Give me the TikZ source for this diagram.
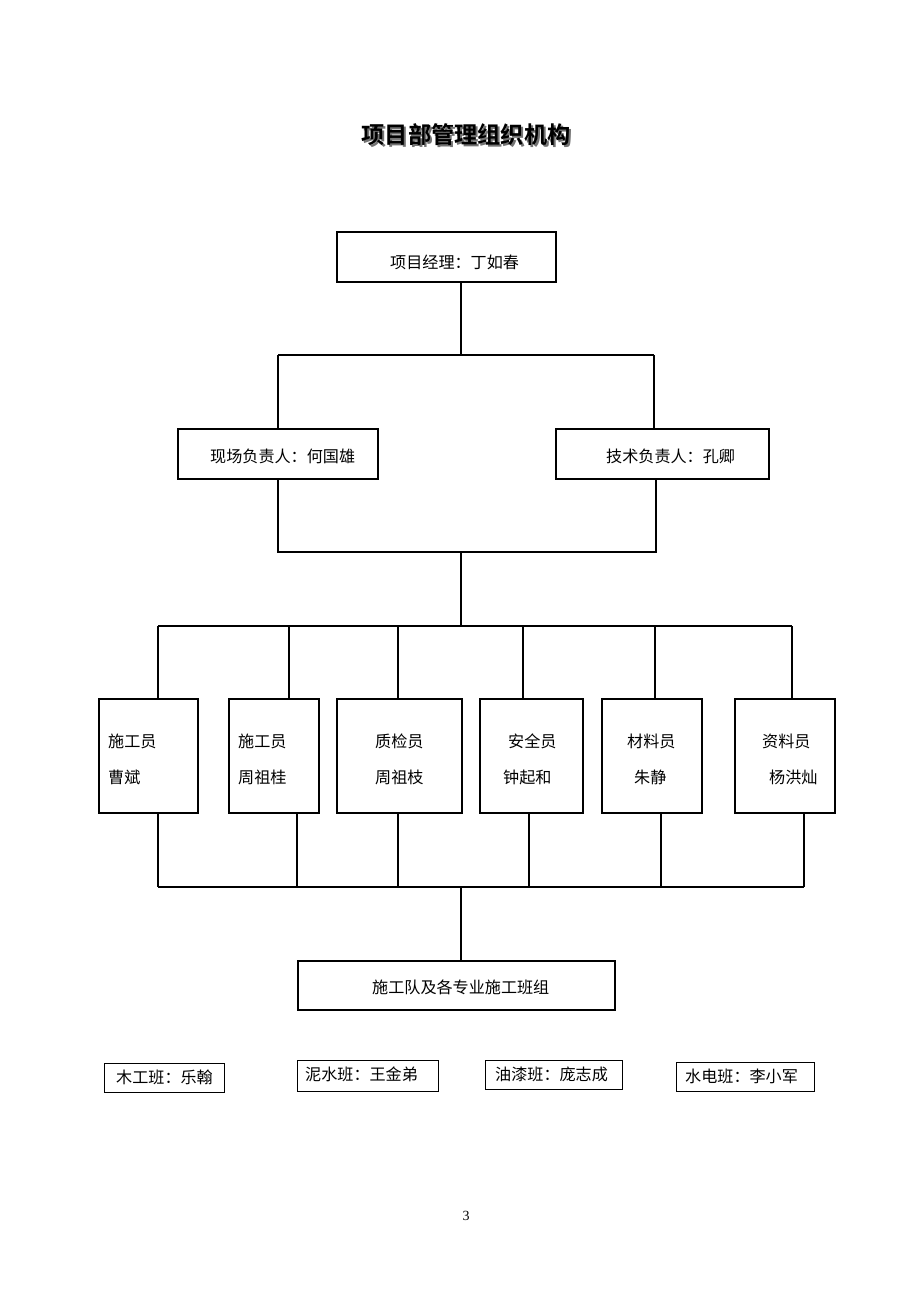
\documentclass[tikz,border=0pt]{standalone}
\usepackage{fontspec}
\setmainfont{Liberation Serif}
\newfontfamily\cjk{Noto Sans CJK SC}
\newfontfamily\cjkb{Noto Sans CJK SC Bold}
\begin{document}
\begin{tikzpicture}[x=1pt,y=-1pt,
  box/.style={draw=black,line width=1.1pt,inner sep=0pt,fill=white},
  txt/.style={inner sep=0pt,anchor=west,font=\cjk\fontsize{16.1}{17}\selectfont},
  conn/.style={draw=black,line width=1.1pt}]
\fill[white] (0,0) rectangle (920,1302);
\useasboundingbox (0,0) rectangle (920,1302);
% title
\node[inner sep=0pt,text=black!55,font=\cjkb\fontsize{23.2}{25}\selectfont] (titleshadow) at (468,137) {项目部管理组织机构};
\node[inner sep=0pt,font=\cjkb\fontsize{23.2}{25}\selectfont] (title) at (466,135) {项目部管理组织机构};
% level 1
\node[box,minimum width=219pt,minimum height=50pt] (pm) at (446.5,257) {};
\node[txt] (pmt) at (390,262) {项目经理：丁如春};
% level 2
\node[box,minimum width=200pt,minimum height=50pt] (site) at (278,454) {};
\node[txt] (sitet) at (210,456) {现场负责人：何国雄};
\node[box,minimum width=213pt,minimum height=50pt] (tech) at (662.5,454) {};
\node[txt] (techt) at (606,456) {技术负责人：孔卿};
% level 3 boxes
\node[box,minimum width=99pt,minimum height=114pt] (b1) at (148.5,756) {};
\node[box,minimum width=90pt,minimum height=114pt] (b2) at (274,756) {};
\node[box,minimum width=125pt,minimum height=114pt] (b3) at (399.5,756) {};
\node[box,minimum width=103pt,minimum height=114pt] (b4) at (531.5,756) {};
\node[box,minimum width=100pt,minimum height=114pt] (b5) at (652,756) {};
\node[box,minimum width=100pt,minimum height=114pt] (b6) at (785,756) {};
\node[txt] (b1a) at (108,741) {施工员};
\node[txt] (b1b) at (108,777) {曹斌};
\node[txt] (b2a) at (238,741) {施工员};
\node[txt] (b2b) at (238,777) {周祖桂};
\node[txt] (b3a) at (375,741) {质检员};
\node[txt] (b3b) at (375,777) {周祖枝};
\node[txt] (b4a) at (508,741) {安全员};
\node[txt] (b4b) at (503,777) {钟起和};
\node[txt] (b5a) at (627,741) {材料员};
\node[txt] (b5b) at (634,777) {朱静};
\node[txt] (b6a) at (762,741) {资料员};
\node[txt] (b6b) at (769,777) {杨洪灿};
% level 4
\node[box,minimum width=317pt,minimum height=49pt] (team) at (456.5,985.5) {};
\node[txt] (teamt) at (372,987) {施工队及各专业施工班组};
% teams
\node[box,line width=1pt,minimum width=120pt,minimum height=29pt] (t1) at (164,1077.5) {};
\node[txt] (t1t) at (116,1077) {木工班：乐翰};
\node[box,line width=1pt,minimum width=141pt,minimum height=31pt] (t2) at (367.5,1075.5) {};
\node[txt] (t2t) at (305,1074) {泥水班：王金弟};
\node[box,line width=1pt,minimum width=137pt,minimum height=29pt] (t3) at (553.5,1074.5) {};
\node[txt] (t3t) at (495,1074) {油漆班：庞志成};
\node[box,line width=1pt,minimum width=138pt,minimum height=29pt] (t4) at (745,1076.5) {};
\node[txt] (t4t) at (685,1076) {水电班：李小军};
% page number
\node[inner sep=0pt,font=\fontsize{14}{14}\selectfont] (page) at (466,1216) {3};
% junctions
\coordinate (j1) at (461,355);
\coordinate (j1l) at (278,355);
\coordinate (j1r) at (654,355);
\coordinate (j2l) at (278,552);
\coordinate (j2r) at (656,552);
\coordinate (j2) at (461,552);
\coordinate (j3) at (461,626);
\coordinate (j3l) at (158,626);
\coordinate (j3r) at (792,626);
\coordinate (j4l) at (158,887);
\coordinate (j4r) at (804,887);
\coordinate (j4) at (461,887);
% connectors
\draw[conn] (pm.south -| j1) -- (j1);
\draw[conn] (j1l) -- (j1r);
\draw[conn] (j1l) -- (site.north -| j1l);
\draw[conn] (j1r) -- (tech.north -| j1r);
\draw[conn] (site.south -| j2l) -- (j2l) -- (j2r) -- (tech.south -| j2r);
\draw[conn] (j2) -- (j3);
\draw[conn] (j3l) -- (j3r);
\foreach \b/\x in {b1/158,b2/289,b3/398,b4/523,b5/655,b6/792}
  \draw[conn] (\x,626) -- (\b.north -| \x,0);
\foreach \b/\x in {b1/158,b2/297,b3/398,b4/529,b5/661,b6/804}
  \draw[conn] (\b.south -| \x,0) -- (\x,887);
\draw[conn] (j4l) -- (j4r);
\draw[conn] (j4) -- (team.north -| j4);
\end{tikzpicture}
\end{document}
